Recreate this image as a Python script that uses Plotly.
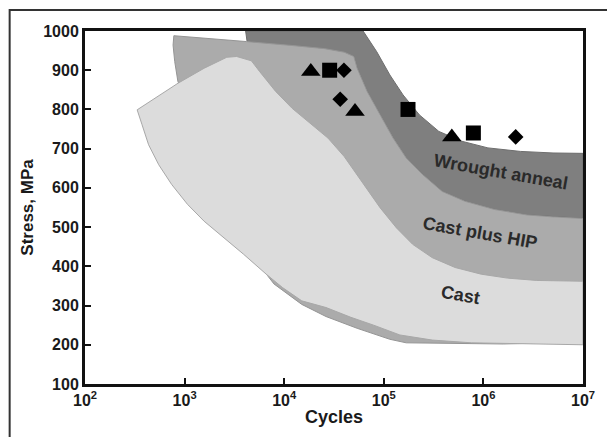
import math
import plotly.graph_objects as go

# ---- data (cycles, stress MPa) ----
wrought_upper_cycles = [4.1e3, 6.2e4, 8.5e4, 1.15e5, 1.56e5, 2.28e5, 3.57e5, 6.05e5, 1.11e6, 2.35e6, 5.0e6, 1e7]
wrought_upper_stress = [1000, 1000, 947, 888, 837, 786, 744, 719, 702, 693, 689, 688]
wrought_lower_cycles = [1e7, 5.0e6, 2.74e6, 1.29e6, 6.5e5, 3.85e5, 2.45e5, 1.68e5, 1.24e5, 9.2e4, 6.8e4, 5.4e4, 5.0e4, 2.0e4, 4.24e3]
wrought_lower_stress = [522, 526, 531, 545, 566, 591, 634, 676, 727, 786, 846, 905, 935, 950, 973]

hip_top_cycles = [7.8e2, 1.82e3, 4.18e3, 1.2e4, 2.55e4, 4.0e4]
hip_top_stress = [988, 981, 973, 963, 955, 946]
hip_bottom_cycles = [1e7, 3.2e6, 1.58e6, 5.2e5, 1.68e5, 1.15e5, 5.4e4, 2.63e4, 1.5e4, 7.9e3, 6.4e3, 5.0e3, 2.0e3, 9.0e2, 8.57e2, 7.96e2, 7.66e2]
hip_bottom_stress = [204, 204, 202, 203, 205, 214, 242, 272, 303, 355, 385, 430, 650, 860, 871, 922, 964]

cast_top_cycles = [3.34e2, 8.6e2, 1.57e3, 2.65e3, 3.33e3, 4.68e3, 5.65e3, 8.2e3, 1.2e4, 1.89e4, 2.75e4, 4.0e4,
                   6.3e4, 9.2e4, 1.34e5, 1.95e5, 3.07e5, 5.2e5, 9.5e5, 1.74e6, 3.43e6, 1e7]
cast_top_stress = [799, 867, 905, 933, 935, 924, 897, 846, 803, 761, 727, 680,
                   609, 549, 498, 456, 422, 397, 380, 370, 364, 362]
cast_bottom_cycles = [1e7, 2.35e6, 7.6e5, 3.07e5, 1.45e5, 7.9e4, 4.67e4, 2.63e4, 1.5e4, 9.6e3, 6.6e3,
                      3.9e3, 2.47e3, 1.57e3, 1.07e3, 7.4e2, 5.5e2, 4.35e2, 3.74e2]
cast_bottom_stress = [200, 202, 205, 212, 225, 250, 270, 295, 312, 346, 380,
                      431, 473, 515, 558, 609, 659, 710, 761]

tri_cycles = [1.85e4, 5.14e4, 4.82e5]
tri_stress = [897, 795, 730]
sq_cycles = [2.86e4, 1.75e5, 7.93e5]
sq_stress = [900, 800, 740]
dia_cycles = [3.98e4, 3.65e4, 2.11e6]
dia_stress = [900, 826, 730]

region_labels = ["Wrought anneal", "Cast plus HIP", "Cast"]
label_cycles = [1.5e6, 9.3e5, 5.9e5]
label_stress = [640, 484, 326]

x_ticks = [1e2, 1e3, 1e4, 1e5, 1e6, 1e7]
x_ticktext = ["10<sup>2</sup>", "10<sup>3</sup>", "10<sup>4</sup>", "10<sup>5</sup>", "10<sup>6</sup>", "10<sup>7</sup>"]
y_ticks = [100, 200, 300, 400, 500, 600, 700, 800, 900, 1000]

FONT = "Liberation Sans, Arial, Helvetica, sans-serif"

fig = go.Figure()

def poly(xs, ys, fill, line):
    fig.add_trace(go.Scatter(x=xs + xs[:1], y=ys + ys[:1], mode="lines", fill="toself",
                             fillcolor=fill, line=dict(color=line, width=1),
                             hoverinfo="skip", showlegend=False))

poly(wrought_upper_cycles + wrought_lower_cycles, wrought_upper_stress + wrought_lower_stress, "#7f7f7f", "#6e6e6e")
poly(hip_top_cycles + wrought_lower_cycles[:13][::-1] + hip_bottom_cycles,
     hip_top_stress + wrought_lower_stress[:13][::-1] + hip_bottom_stress, "#ababab", "#959595")
poly(cast_top_cycles + cast_bottom_cycles, cast_top_stress + cast_bottom_stress, "#dcdcdc", "#a8a8a8")

mk = dict(color="black")
fig.add_trace(go.Scatter(x=tri_cycles, y=tri_stress, mode="markers",
                         marker=dict(symbol="triangle-up", size=17, **mk), showlegend=False))
fig.add_trace(go.Scatter(x=sq_cycles, y=sq_stress, mode="markers",
                         marker=dict(symbol="square", size=15, **mk), showlegend=False))
fig.add_trace(go.Scatter(x=dia_cycles, y=dia_stress, mode="markers",
                         marker=dict(symbol="diamond", size=12, **mk), showlegend=False))

for txt, xv, yv in zip(region_labels, label_cycles, label_stress):
    fig.add_annotation(x=math.log10(xv), y=yv, text="<b>" + txt + "</b>", showarrow=False, textangle=10,
                       font=dict(family=FONT, size=18, color="#2a2a2a"))

fig.add_shape(type="rect", xref="paper", yref="paper", x0=-0.1513, x1=1.3, y0=-0.5, y1=1.0593,
              line=dict(color="#333333", width=2), layer="below")

fig.update_xaxes(type="log", range=[2, 7], tickvals=x_ticks, ticktext=x_ticktext,
                 showline=True, linewidth=3, linecolor="#111111", mirror=True,
                 ticks="inside", ticklen=6, tickwidth=2, tickcolor="#111111",
                 showgrid=False, zeroline=False,
                 tickfont=dict(family=FONT, size=16, color="#1a1a1a", weight="bold"),
                 title=dict(text="<b>Cycles</b>", font=dict(family=FONT, size=18, color="#1a1a1a"), standoff=3))
fig.update_yaxes(range=[100, 1000], tickvals=y_ticks,
                 showline=True, linewidth=3, linecolor="#111111", mirror=True,
                 ticks="inside", ticklen=6, tickwidth=2, tickcolor="#111111",
                 showgrid=False, zeroline=False,
                 tickfont=dict(family=FONT, size=16, color="#1a1a1a", weight="bold"),
                 title=dict(text="<b>Stress, MPa</b>", font=dict(family=FONT, size=17, color="#1a1a1a"), standoff=6))

fig.update_layout(width=607, height=437, margin=dict(l=85, r=13, t=31, b=52),
                  paper_bgcolor="white", plot_bgcolor="white", showlegend=False)

fig.write_html("out.html", config={"displayModeBar": False},
               post_script="document.body.style.margin='0';")
